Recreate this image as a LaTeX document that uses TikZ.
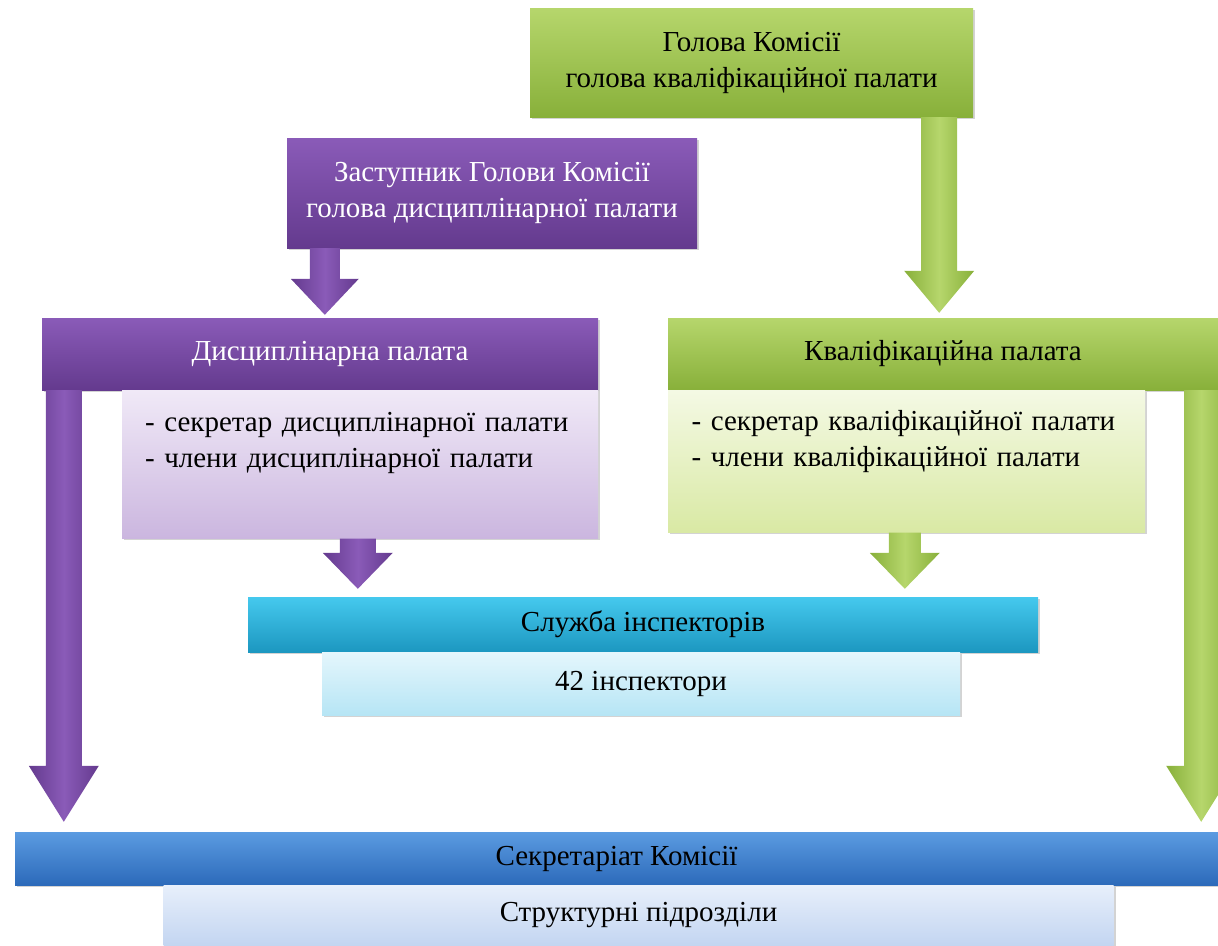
\documentclass[tikz,border=0pt]{standalone}
\usepackage{fontspec}
\setmainfont{Liberation Serif}
\usetikzlibrary{calc,shadows}

\definecolor{verdeA}{HTML}{B6D66C}
\definecolor{verdeB}{HTML}{88B03A}
\definecolor{verdeC}{HTML}{F4F9E4}
\definecolor{verdeD}{HTML}{D9E9A4}
\definecolor{violaA}{HTML}{8A5BB8}
\definecolor{violaB}{HTML}{643A8E}
\definecolor{violaC}{HTML}{F0E9F7}
\definecolor{violaD}{HTML}{CBB6DF}
\definecolor{cianoA}{HTML}{45C9EE}
\definecolor{cianoB}{HTML}{1C97C0}
\definecolor{cianoC}{HTML}{E4F6FC}
\definecolor{cianoD}{HTML}{B6E5F5}
\definecolor{bluA}{HTML}{5B9BE1}
\definecolor{bluB}{HTML}{2C6ABA}
\definecolor{bluC}{HTML}{E7EFFB}
\definecolor{bluD}{HTML}{C3D5F1}

\tikzset{
  box/.style={rectangle, inner sep=0pt, align=center, font=\fontsize{29}{36}\selectfont,
    drop shadow={opacity=0.35, shadow xshift=2pt, shadow yshift=-2pt}},
  capo/.style={box, top color=#1A, bottom color=#1B},
}

% freccia piena: colore, partenza, punta, mezzo fusto, mezza testa, lunghezza testa
\newcommand\freccia[6]{%
  \shade[left color=#1B, right color=#1B, middle color=#1A]
    ($(#2)+(-#4,0)$) -- ($(#3)+(-#4,-#6)$) -- ($(#3)+(-#5,-#6)$) -- (#3)
    -- ($(#3)+(#5,-#6)$) -- ($(#3)+(#4,-#6)$) -- ($(#2)+(#4,0)$) -- cycle;}

\begin{document}
\begin{tikzpicture}[x=1pt,y=-1pt]
  \useasboundingbox (0,0) rectangle (1218,945);

  % Vertice
  \node[capo=verde, minimum width=443, minimum height=109] (capo) at (751.5,62.5)
    {Голова Комісії\\голова кваліфікаційної палати};
  \node[capo=viola, minimum width=410, minimum height=110, text=white] (vice) at (492,193)
    {Заступник Голови Комісії\\голова дисциплінарної палати};

  % Palate
  \node[capo=viola, minimum width=556, minimum height=72, text=white] (dpal) at (320,354)
    {\hspace*{20pt}Дисциплінарна палата};
  \node[box, top color=violaC, bottom color=violaD, minimum width=476, minimum height=148,
    text width=430, align=left, anchor=north east] (dsub) at (dpal.south east)
    {- секретар дисциплінарної палати\\- члени дисциплінарної палати\\[14pt]\mbox{}};
  \node[capo=verde, minimum width=550, minimum height=72] (qpal) at (943,354)
    {Кваліфікаційна палата};
  \node[box, top color=verdeC, bottom color=verdeD, minimum width=477, minimum height=142,
    text width=430, align=left, anchor=north west] (qsub) at (qpal.south west)
    {- секретар кваліфікаційної палати\\- члени кваліфікаційної палати\\[9pt]\mbox{}};

  % Ispettori
  \node[capo=ciano, minimum width=790, minimum height=55] (serv) at (643,624.5)
    {Служба інспекторів};
  \node[box, top color=cianoC, bottom color=cianoD, minimum width=638, minimum height=63,
    anchor=north] (insp) at ($(serv.south)+(-2,0)$) {42 інспектори};

  % Segretariato
  \node[capo=blu, minimum width=1203, minimum height=53] (secr) at (616.5,858.5)
    {Секретаріат Комісії};
  \node[box, top color=bluC, bottom color=bluD, minimum width=950, minimum height=60,
    anchor=north] (strut) at ($(secr.south)+(22,0)$) {Структурні підрозділи};

  % Frecce
  \coordinate (a1) at ($(capo.south east)+(-34,0)$);
  \coordinate (a2) at ($(vice.south west)+(38,0)$);
  \coordinate (a3) at ($(dpal.south west)+(22,0)$);
  \coordinate (a4) at ($(qpal.south east)+(-17,0)$);
  \coordinate (a5) at ($(dsub.south west)+(236,0)$);
  \coordinate (a6) at ($(qsub.south west)+(237,0)$);
  \freccia{verde}{a1}{$(a1 |- qpal.north)+(0,-5)$}{18}{35}{42}
  \freccia{viola}{a2}{$(a2 |- dpal.north)+(0,-3)$}{15}{34}{36}
  \freccia{viola}{a3}{$(a3 |- secr.north)+(0,-10)$}{18}{35}{56}
  \freccia{verde}{a4}{$(a4 |- secr.north)+(0,-10)$}{17}{35}{56}
  \freccia{viola}{a5}{$(a5 |- serv.north)+(0,-8)$}{18}{35}{36}
  \freccia{verde}{a6}{$(a6 |- serv.north)+(0,-8)$}{16}{35}{36}
\end{tikzpicture}
\end{document}
